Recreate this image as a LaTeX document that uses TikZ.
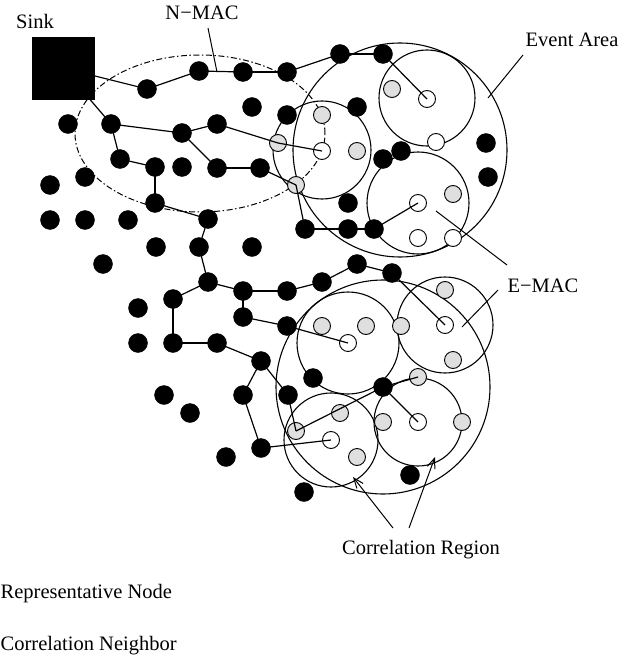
\documentclass[tikz,border=0pt]{standalone}
\usepackage{fontspec}
\setmainfont{Liberation Serif}
\usetikzlibrary{arrows.meta}
\begin{document}
\begin{tikzpicture}[x=1pt,y=-1pt,
  bnode/.style={circle,fill=black,draw=black,inner sep=0pt,minimum size=19pt},
  gnode/.style={circle,fill=gray!25,draw=black,line width=0.9pt,inner sep=0pt,minimum size=17pt},
  onode/.style={circle,fill=white,draw=black,line width=0.9pt,inner sep=0pt,minimum size=17pt},
  sinkbox/.style={rectangle,fill=black,draw=black,inner sep=0pt,minimum size=62pt},
  region/.style={draw=black,line width=1.1pt},
  link/.style={draw=black,line width=1.2pt},
  leader/.style={draw=black,line width=1pt},
  pointer/.style={draw=black,line width=1pt,-{Straight Barb[length=10pt,width=8pt]}},
  lbl/.style={font=\fontsize{20.5}{24}\selectfont,inner sep=0pt},
  nmacline/.style={draw=black,line width=1pt,dash pattern=on 6pt off 2.5pt on 1.5pt off 2.5pt}]
\useasboundingbox (0,0) rectangle (636,658);

% regions
\draw[region] (400,150) circle[radius=107pt];
\draw[region] (427,98) circle[radius=48pt];
\draw[region] (322,150) circle[radius=49pt];
\draw[region] (418,203) circle[radius=51pt];
\draw[region] (383,387) circle[radius=107pt];
\draw[region] (348,343) circle[radius=51pt];
\draw[region] (445,325) circle[radius=48pt];
\draw[region] (331,440) circle[radius=47pt];
\draw[region] (418,422) circle[radius=44pt];
\draw[nmacline] (200,133.5) ellipse[x radius=125pt, y radius=78.5pt];

% sink
\node[sinkbox] (sink) at (63,68) {};

% black nodes
\foreach \n/\x/\y in {b1/147/89, b2/199/71, b3/243/72, b4/287/72, b5/252/107,
  b6/287/115, b7/68/124, b8/111/124, b9/182/133, b10/217/124, b11/120/159,
  b12/155/167, b13/182/167, b14/217/168, b15/260/168, b16/85/177, b17/50/185,
  b18/155/203, b19/50/220, b20/85/220, b21/128/220, b22/208/219, b23/305/229,
  b24/156/247, b25/199/247, b26/252/247, b27/340/54, b28/383/54, b29/357/107,
  b30/383/159, b31/401/151, b32/486/143, b33/488/177, b34/348/203, b35/348/229,
  b36/374/229, b37/103/264, b38/208/282, b39/243/291, b40/287/291, b41/173/299,
  b42/138/308, b43/243/317, b44/287/326, b45/138/343, b46/173/343, b47/217/343,
  b48/261/361, b49/313/378, b50/164/395, b51/243/395, b52/288/395, b53/190/413,
  b54/261/448, b55/226/457, b56/304/492, b57/322/282, b58/357/264, b59/392/273,
  b60/383/387, b61/410/475}
  \node[bnode] (\n) at (\x,\y) {};

% grey nodes (correlation neighbours)
\foreach \n/\x/\y in {g1/278/143, g2/296/185, g3/322/115, g4/357/151, g5/392/89,
  g6/453/194, g7/322/326, g8/366/326, g9/401/326, g10/445/290, g11/453/360,
  g12/418/377, g13/340/413, g14/296/431, g15/383/422, g16/462/422, g17/357/457}
  \node[gnode] (\n) at (\x,\y) {};

% open nodes (representative nodes)
\foreach \n/\x/\y in {o1/427/99, o2/436/142, o3/322/151, o4/418/203, o5/418/238,
  o6/453/238, o7/348/343, o8/445/325, o9/418/422, o10/331/440}
  \node[onode] (\n) at (\x,\y) {};

% routing links
\foreach \a/\b in {sink/b1, b1/b2, b2/b3, b3/b4, b4/b27, b27/b28, b28/o1,
  sink/b8, b8/b9, b9/b10, b10/g1, g1/o3,
  b8/b11, b11/b12, b12/b18, b18/b22, b22/b25, b25/b38, b38/b41, b38/b39,
  b39/b40, b40/b57, b57/b58, b58/b59, b59/o8,
  b9/b14, b14/b15, b15/g2, g2/b23, b23/b35, b35/b36, b36/o4,
  b39/b43, b43/b44, b44/o7,
  b41/b46, b46/b47, b47/b48, b48/b51, b48/b52, b51/b54, b54/o10,
  b52/g14, g14/b60, b60/o9, b60/g12}
  \draw[link] (\a.center) -- (\b.center);

% labels
\node[lbl,anchor=base] (tsink) at (35,29) {Sink};
\node[lbl,anchor=base] (tnmac) at (202,20) {N−MAC};
\node[lbl,anchor=base] (tevent) at (572,47) {Event Area};
\node[lbl,anchor=base] (temac) at (543,292) {E−MAC};
\node[lbl,anchor=base] (tcorr) at (421,554) {Correlation Region};
\node[lbl,anchor=base west] (trep) at (0.5,598) {Representative Node};
\node[lbl,anchor=base west] (tneigh) at (0.5,650) {Correlation Neighbor};

% leaders
\coordinate (nmacA) at (208,28);
\coordinate (nmacB) at (217,72);
\coordinate (evA) at (523,55);
\coordinate (evB) at (488,98);
\coordinate (emA) at (507,265);
\coordinate (emB) at (436,211);
\coordinate (emC) at (498,290);
\coordinate (emD) at (462,327);
\coordinate (crA) at (393,528);
\coordinate (crB) at (353,477);
\coordinate (crC) at (409,528);
\coordinate (crD) at (435,457);
\draw[leader] (nmacA) -- (nmacB);
\draw[leader] (evA) -- (evB);
\draw[leader] (emA) -- (emB);
\draw[leader] (emC) -- (emD);
\draw[pointer] (crA) -- (crB);
\draw[pointer] (crC) -- (crD);
\end{tikzpicture}
\end{document}
